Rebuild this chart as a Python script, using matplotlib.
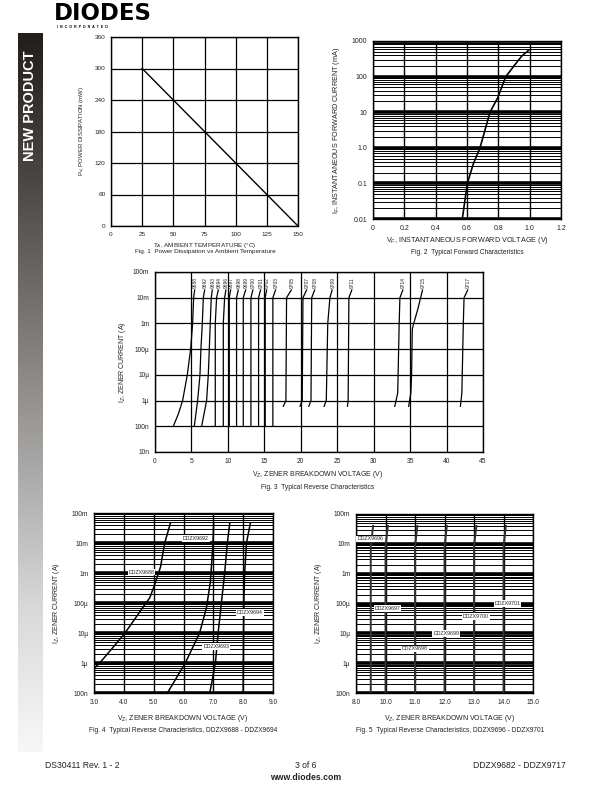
import numpy as np
import matplotlib
matplotlib.use("Agg")
import matplotlib.pyplot as plt
from matplotlib.colors import LinearSegmentedColormap
from matplotlib.ticker import LogLocator, NullFormatter

plt.rcParams['font.family'] = ['Liberation Sans', 'DejaVu Sans']
plt.rcParams['mathtext.fontset'] = 'custom'
plt.rcParams['mathtext.rm'] = 'Liberation Sans'
plt.rcParams['mathtext.it'] = 'Liberation Sans:italic'

W, H = 612, 792
TXT = '#222222'

# Fig 1 data: power derating
temp = [25, 150]
power = [300, 0]
fig1_xticks = [0, 25, 50, 75, 100, 125, 150]
fig1_yticks = [0, 60, 120, 180, 240, 300, 360]

# Fig 2 data: forward characteristic
vf = [0.57, 0.602, 0.64, 0.683, 0.747, 0.795, 0.848, 0.90, 0.95, 0.993]
i_f = [0.01, 0.1, 0.35, 1.0, 10, 25, 100, 200, 380, 545]
fig2_xticks = [0, 0.2, 0.4, 0.6, 0.8, 1.0, 1.2]
fig2_xlabels = ['0', '0.2', '0.4', '0.6', '0.8', '1.0', '1.2']
fig2_yticks = [0.01, 0.1, 1, 10, 100, 1000]
fig2_ylabels = ['0.01', '0.1', '1.0', '10', '100', '1000']

# Fig 3 data: reverse characteristics, all parts
fig3_curves = {
    '9688': ([2.51, 3.2, 3.79, 4.43, 4.89, 5.16, 5.30, 5.44], [1e-7, 3e-7, 1e-6, 1e-5, 1e-4, 1e-3, 1e-2, 2e-2]),
    '9692': ([5.39, 5.85, 6.17, 6.30, 6.49, 6.63, 6.81], [1e-7, 1e-6, 1e-5, 1e-4, 1e-3, 1e-2, 2e-2]),
    '9693': ([6.40, 7.08, 7.31, 7.45, 7.58, 7.72, 7.86], [1e-7, 1e-6, 1e-5, 1e-4, 1e-3, 1e-2, 2e-2]),
    '9694': ([8.27, 8.27, 8.45, 8.68], [1e-7, 1e-3, 1e-2, 2e-2]),
    '9696': ([9.37, 9.37, 9.55, 9.73], [1e-7, 1e-3, 1e-2, 2e-2]),
    '9697': ([10.19, 10.19, 10.37], [1e-7, 1e-2, 2e-2]),
    '9698': ([11.19, 11.19, 11.42], [1e-7, 1e-2, 2e-2]),
    '9699': ([12.11, 12.11, 12.43], [1e-7, 1e-2, 2e-2]),
    '9700': ([13.16, 13.16, 13.43], [1e-7, 1e-2, 2e-2]),
    '9701': ([14.21, 14.21, 14.48], [1e-7, 1e-2, 2e-2]),
    '9702': ([15.12, 15.12, 15.31], [1e-7, 1e-2, 2e-2]),
    '9703': ([16.17, 16.17, 16.54], [1e-7, 1e-2, 2e-2]),
    '9705': ([17.6, 17.96, 18.05, 18.7], [6e-7, 1e-6, 1e-2, 2e-2]),
    '9707': ([19.9, 20.2, 20.3, 20.8], [6e-7, 1e-6, 1e-2, 2e-2]),
    '9708': ([21.1, 21.4, 21.5, 21.9], [6e-7, 1e-6, 1e-2, 2e-2]),
    '9709': ([23.2, 23.5, 23.7, 24.0, 24.3], [6e-7, 1e-6, 1e-3, 1e-2, 2e-2]),
    '9711': ([26.4, 26.5, 26.6, 27.0], [6e-7, 1e-6, 1e-2, 2e-2]),
    '9714': ([32.9, 33.3, 33.5, 33.6, 34.0], [6e-7, 2e-6, 1e-3, 1e-2, 2e-2]),
    '9715': ([34.8, 35.1, 35.2, 35.3, 35.5, 36.1, 36.7], [6e-7, 2e-6, 1e-5, 6e-4, 1e-3, 4e-3, 2e-2]),
    '9717': ([41.9, 42.1, 42.3, 42.4, 42.9], [6e-7, 2e-6, 1e-3, 1e-2, 2e-2]),
}
fig3_yticks = [1e-8, 1e-7, 1e-6, 1e-5, 1e-4, 1e-3, 1e-2, 1e-1]
iz_labels = ['10n', '100n', '1\u00b5', '10\u00b5', '100\u00b5', '1m', '10m', '100m']

# Fig 4 data
fig4_curves = {
    'DDZX9688': ([3.0, 3.19, 3.6, 4.04, 4.53, 4.87, 5.03, 5.23, 5.37, 5.56],
                 [6.5e-7, 1e-6, 3e-6, 1e-5, 5e-5, 1.5e-4, 4e-4, 1.6e-3, 1e-2, 4.5e-2]),
    'DDZX9692': ([5.46, 6.06, 6.54, 6.77, 6.90, 6.99, 7.01], [1e-7, 1e-6, 1e-5, 7e-5, 5e-4, 1e-2, 4.5e-2]),
    'DDZX9693': ([6.88, 7.07, 7.16, 7.27, 7.38, 7.47, 7.55], [1e-7, 1e-6, 1e-5, 1e-4, 1e-3, 1e-2, 4.5e-2]),
    'DDZX9694': ([8.0, 8.02, 8.05, 8.11, 8.24], [1e-7, 1e-4, 1e-3, 1e-2, 4.5e-2]),
}
fig4_labels = {'DDZX9692': (6.41, 1.45e-2), 'DDZX9688': (4.59, 1.07e-3),
               'DDZX9694': (8.22, 4.9e-5), 'DDZX9693': (7.10, 3.5e-6)}
fig4_xticks = [3.0, 4.0, 5.0, 6.0, 7.0, 8.0, 9.0]

# Fig 5 data
fig5_curves = {
    'DDZX9696': ([9.5, 9.5, 9.58], [1e-7, 8e-3, 4e-2]),
    'DDZX9697': ([10.0, 10.0, 10.08], [1e-7, 8e-3, 4e-2]),
    'DDZX9698': ([11.0, 11.0, 11.08], [1e-7, 8e-3, 4e-2]),
    'DDZX9699': ([12.0, 12.0, 12.08], [1e-7, 8e-3, 4e-2]),
    'DDZX9700': ([13.0, 13.0, 13.08], [1e-7, 8e-3, 4e-2]),
    'DDZX9701': ([14.0, 14.0, 14.08], [1e-7, 8e-3, 4e-2]),
}
fig5_labels = {'DDZX9696': (9.48, 1.46e-2), 'DDZX9697': (10.07, 6.8e-5), 'DDZX9701': (14.14, 1.0e-4),
               'DDZX9700': (13.06, 3.7e-5), 'DDZX9699': (12.06, 1.0e-5), 'DDZX9698': (11.0, 3.0e-6)}
fig5_xticks = [9, 10, 11, 12, 13, 14, 15]
fig5_xlabels = ['8.0', '10.0', '11.0', '12.0', '13.0', '14.0', '15.0']


def box(x0, y0, x1, y1):
    # pixel box (top-left origin) -> figure fraction rect
    return [x0 / W, 1 - y1 / H, (x1 - x0) / W, (y1 - y0) / H]


def ftext(x, y, s, **kw):
    fig.text(x / W, 1 - y / H, s, color=TXT, **kw)


def style(ax, fs=4.6):
    ax.tick_params(length=0, labelsize=fs, colors=TXT, pad=4)
    for sp in ax.spines.values():
        sp.set_linewidth(1.0)
        sp.set_color('black')
    ax.set_axisbelow(True)


def log_grid(ax, minor=True):
    ax.yaxis.set_minor_locator(LogLocator(base=10, subs=np.arange(2, 10), numticks=20))
    ax.yaxis.set_minor_formatter(NullFormatter())
    ax.tick_params(which='minor', length=0)
    ax.yaxis.grid(True, which='major', color='black', lw=2.6)
    if minor:
        ax.yaxis.grid(True, which='minor', color='black', lw=0.7)
    ax.xaxis.grid(True, which='major', color='black', lw=1.0)


fig = plt.figure(figsize=(W / 100, H / 100), dpi=100)

# side bar with gradient
sb = fig.add_axes(box(18, 33, 43, 752))
cmap = LinearSegmentedColormap.from_list('bar', ['#221e1c', '#4a4644', '#7a7673', '#a9a7a5', '#d8d8d8', '#f7f7f7'])
sb.imshow(np.linspace(0, 1, 256).reshape(-1, 1), aspect='auto', cmap=cmap, extent=[0, 1, 0, 1])
sb.axis('off')
fig.text(30.5 / W, 1 - 106 / H, 'NEW PRODUCT', rotation=90, color='white', fontsize=10.5,
         fontweight='bold', ha='center', va='center')

# logo
fig.text(54 / W, 1 - 14 / H, 'DIODES', fontsize=16.5, fontweight='heavy', family='DejaVu Sans',
         color='black', ha='left', va='center')
fig.text(57 / W, 1 - 27.5 / H, 'I  N  C  O  R  P  O  R  A  T  E  D', fontsize=2.6,
         fontweight='bold', color='black', ha='left', va='center')

# Fig 1
ax1 = fig.add_axes(box(111, 37, 298, 226))
ax1.plot(temp, power, color='black', lw=1.0)
ax1.set_xlim(0, 150)
ax1.set_ylim(0, 360)
ax1.set_xticks(fig1_xticks)
ax1.set_yticks(fig1_yticks)
ax1.grid(True, color='black', lw=0.9)
style(ax1, 4.6)
ftext(81, 131, 'P$_d$, POWER DISSIPATION (mW)', fontsize=4.3, rotation=90, ha='center', va='center')
ftext(205, 245, 'T$_A$, AMBIENT TEMPERATURE (\u00b0C)', fontsize=4.6, ha='center', va='center')
ftext(205, 252, 'Fig. 1  Power Dissipation vs Ambient Temperature', fontsize=4.6, ha='center', va='center')

# Fig 2
ax2 = fig.add_axes(box(373, 41, 561, 219))
ax2.plot(vf, i_f, color='black', lw=1.2)
ax2.set_yscale('log')
ax2.set_xlim(0, 1.2)
ax2.set_ylim(0.01, 1000)
ax2.set_xticks(fig2_xticks)
ax2.set_xticklabels(fig2_xlabels)
ax2.set_yticks(fig2_yticks)
ax2.set_yticklabels(fig2_ylabels)
log_grid(ax2)
style(ax2, 5.0)
ftext(337, 130, 'I$_F$, INSTANTANEOUS FORWARD CURRENT (mA)', fontsize=5.2, rotation=90, ha='center', va='center')
ftext(467, 241, 'V$_F$, INSTANTANEOUS FORWARD VOLTAGE (V)', fontsize=5.2, ha='center', va='center')
ftext(467, 253, 'Fig. 2  Typical Forward Characteristics', fontsize=4.8, ha='center', va='center')

# Fig 3
ax3 = fig.add_axes(box(155, 272, 483, 452))
for name, (v, i) in fig3_curves.items():
    ax3.plot(v, i, color='black', lw=0.9)
    ax3.text(v[-1] + 0.1, 2.4e-2, name, rotation=90, fontsize=3.5, ha='center', va='bottom', color=TXT)
ax3.set_yscale('log')
ax3.set_xlim(0, 45)
ax3.set_ylim(1e-8, 1e-1)
ax3.set_xticks(range(0, 50, 5))
ax3.set_yticks(fig3_yticks)
ax3.set_yticklabels(iz_labels)
ax3.yaxis.set_minor_locator(plt.NullLocator())
ax3.grid(True, color='black', lw=0.9)
style(ax3, 4.8)
ftext(122, 362, 'I$_Z$, ZENER CURRENT (A)', fontsize=5.0, rotation=90, ha='center', va='center')
ftext(318, 475, 'V$_Z$, ZENER BREAKDOWN VOLTAGE (V)', fontsize=5.0, ha='center', va='center')
ftext(318, 487, 'Fig. 3  Typical Reverse Characteristics', fontsize=4.8, ha='center', va='center')

# Fig 4
ax4 = fig.add_axes(box(94, 513, 273, 693))
for name, (v, i) in fig4_curves.items():
    ax4.plot(v, i, color='black', lw=1.1)
for name, (x, y) in fig4_labels.items():
    ax4.text(x, y, name, fontsize=3.8, ha='center', va='center', color=TXT,
             bbox=dict(facecolor='white', edgecolor='none', pad=0.6))
ax4.set_yscale('log')
ax4.set_xlim(3, 9)
ax4.set_ylim(1e-7, 1e-1)
ax4.set_xticks(fig4_xticks)
ax4.set_xticklabels(['%.1f' % t for t in fig4_xticks])
ax4.set_yticks(fig3_yticks[1:])
ax4.set_yticklabels(iz_labels[1:])
log_grid(ax4)
style(ax4, 4.8)
ftext(57, 603, 'I$_Z$, ZENER CURRENT (A)', fontsize=5.0, rotation=90, ha='center', va='center')
ftext(183, 718, 'V$_Z$, ZENER BREAKDOWN VOLTAGE (V)', fontsize=5.0, ha='center', va='center')
ftext(183, 730, 'Fig. 4  Typical Reverse Characteristics, DDZX9688 - DDZX9694', fontsize=4.8, ha='center', va='center')

# Fig 5
ax5 = fig.add_axes(box(356, 514, 533, 693))
for name, (v, i) in fig5_curves.items():
    ax5.plot(v, i, color='#333333', lw=1.4)
for name, (x, y) in fig5_labels.items():
    ax5.text(x, y, name, fontsize=3.8, ha='center', va='center', color=TXT,
             bbox=dict(facecolor='white', edgecolor='none', pad=0.6))
ax5.set_yscale('log')
ax5.set_xlim(9, 15)
ax5.set_ylim(1e-7, 1e-1)
ax5.set_xticks(fig5_xticks)
ax5.set_xticklabels(fig5_xlabels)
ax5.set_yticks(fig3_yticks[1:])
ax5.set_yticklabels(iz_labels[1:])
log_grid(ax5)
style(ax5, 4.8)
ftext(318, 603, 'I$_Z$, ZENER CURRENT (A)', fontsize=5.0, rotation=90, ha='center', va='center')
ftext(450, 718, 'V$_Z$, ZENER BREAKDOWN VOLTAGE (V)', fontsize=5.0, ha='center', va='center')
ftext(450, 730, 'Fig. 5  Typical Reverse Characteristics, DDZX9696 - DDZX9701', fontsize=4.8, ha='center', va='center')

# footer
ftext(45, 766, 'DS30411 Rev. 1 - 2', fontsize=6.2, ha='left', va='center')
ftext(306, 766, '3 of 6', fontsize=6.2, ha='center', va='center')
ftext(306, 777, 'www.diodes.com', fontsize=6.2, ha='center', va='center', fontweight='bold')
ftext(566, 766, 'DDZX9682 - DDZX9717', fontsize=6.2, ha='right', va='center')

fig.savefig('out.png', dpi=100)
